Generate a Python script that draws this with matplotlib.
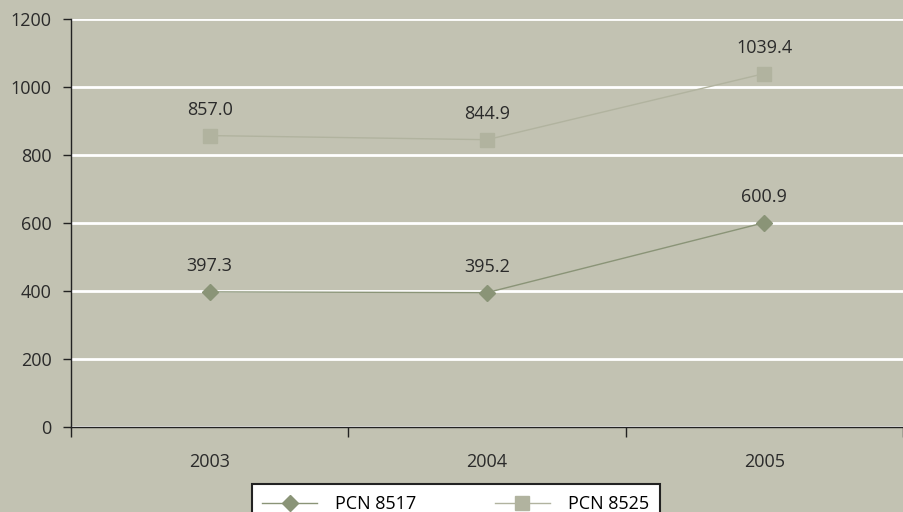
import matplotlib
matplotlib.use("Agg")
import matplotlib.pyplot as plt
from matplotlib.ticker import FixedLocator

years = ["2003", "2004", "2005"]
pcn_8517 = [397.3, 395.2, 600.9]
pcn_8525 = [857.0, 844.9, 1039.4]
y_ticks = [0, 200, 400, 600, 800, 1000, 1200]

bg = "#c2c2b2"
c_8517 = "#8a9477"
c_8525 = "#b1b39f"
text_c = "#2a2a2a"

plt.rcParams["font.family"] = ["Open Sans", "DejaVu Sans"]

fig = plt.figure(figsize=(9.04, 5.12), dpi=100, facecolor=bg)
ax = fig.add_axes([0.0785, 0.166, 0.9205, 0.797])
ax.set_facecolor(bg)

x = list(range(len(years)))
ax.plot(x, pcn_8517, color=c_8517, lw=1, marker="D", markersize=8.5,
        markeredgecolor=c_8517, markerfacecolor=c_8517, label="PCN 8517", zorder=3)
ax.plot(x, pcn_8525, color=c_8525, lw=1, marker="s", markersize=10,
        markeredgecolor=c_8525, markerfacecolor=c_8525, label="PCN 8525", zorder=3)

for xi, v in zip(x, pcn_8517):
    ax.annotate(f"{v:.1f}", (xi, v), xytext=(0, 12), textcoords="offset points",
                ha="center", va="bottom", fontsize=13, color=text_c)
for xi, v in zip(x, pcn_8525):
    ax.annotate(f"{v:.1f}", (xi, v), xytext=(0, 12), textcoords="offset points",
                ha="center", va="bottom", fontsize=13, color=text_c)

ax.set_xlim(-0.5, 2.5)
ax.set_ylim(0, 1200)
ax.set_yticks(y_ticks)
ax.set_xticks(x)
ax.set_xticklabels(years)
ax.xaxis.set_minor_locator(FixedLocator([-0.5, 0.5, 1.5, 2.5]))
ax.tick_params(axis="x", which="major", length=0, pad=19, labelsize=13, colors=text_c)
ax.tick_params(axis="x", which="minor", length=7, width=1, color="#222222")
ax.tick_params(axis="y", length=6, width=1, color="#222222", labelsize=13,
               labelcolor=text_c, pad=8)

ax.grid(axis="y", color="white", lw=2)
ax.set_axisbelow(True)
for s in ["top", "right"]:
    ax.spines[s].set_visible(False)
ax.spines["left"].set_color("#222222")
ax.spines["bottom"].set_color("#222222")
ax.spines["left"].set_linewidth(1)
ax.spines["bottom"].set_linewidth(1)

leg = fig.legend(loc="upper center", bbox_to_anchor=(0.504, 0.0547), ncol=2,
                 frameon=True, fancybox=False, framealpha=1, fontsize=13,
                 handlelength=3.0, columnspacing=4.4, borderpad=0.6,
                 borderaxespad=0, handletextpad=1.0)
leg.get_frame().set_edgecolor("#222222")
leg.get_frame().set_linewidth(1.5)
leg.get_frame().set_facecolor("white")

fig.savefig("out.png", dpi=100, facecolor=bg)
